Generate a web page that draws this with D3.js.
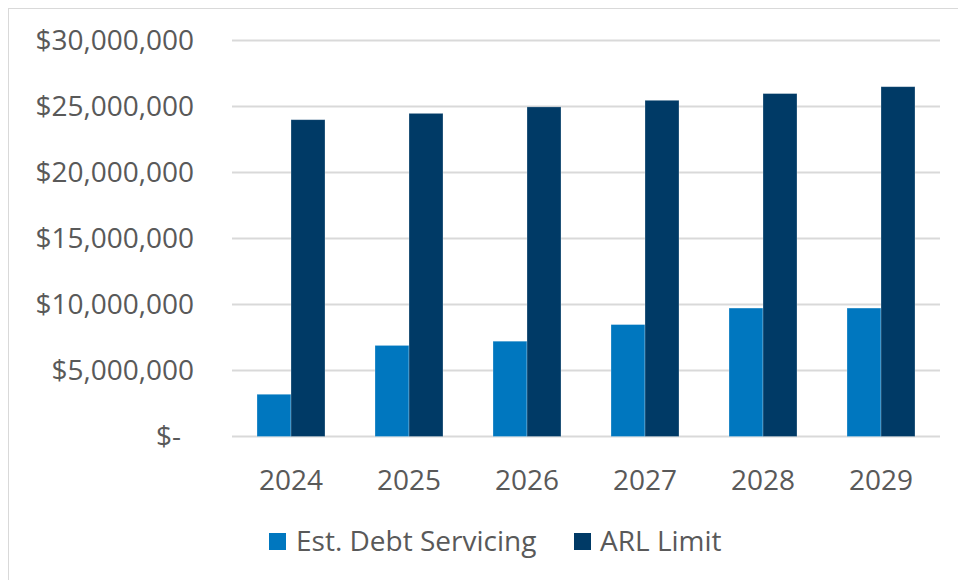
<!DOCTYPE html>
<html>
<head>
<meta charset="utf-8">
<script src="https://cdn.jsdelivr.net/npm/d3@7"></script>
<style>
  body { margin: 0; background: #fff; }
  svg text { font-family: "Open Sans", sans-serif; fill: #595959; }
</style>
</head>
<body>
<svg id="chart" width="958" height="580"></svg>
<script>
// ---- data ----
const years = ["2024", "2025", "2026", "2027", "2028", "2029"];
const debtServicing = [3200000, 6900000, 7220000, 8480000, 9730000, 9730000];
const arlLimit = [24000000, 24480000, 24970000, 25470000, 25980000, 26500000];
const seriesNames = ["Est. Debt Servicing", "ARL Limit"];
const seriesColors = ["#0077bf", "#003a66"];
const yTicks = [0, 5000000, 10000000, 15000000, 20000000, 25000000, 30000000];

// ---- layout ----
const svg = d3.select("#chart");
const plot = { left: 232, right: 940, top: 40.5, bottom: 436.5 };

// chart border
svg.append("rect")
  .attr("x", 8.5).attr("y", 8.5).attr("width", 1000).attr("height", 1000)
  .attr("fill", "none").attr("stroke", "#d9d9d9").attr("stroke-width", 1);

const x = d3.scaleBand().domain(years).range([plot.left, plot.right]).paddingInner(0).paddingOuter(0);
const inner = d3.scaleBand().domain(seriesNames).range([x.bandwidth() / 2 - 34, x.bandwidth() / 2 + 34]);
const y = d3.scaleLinear().domain([0, 30000000]).range([plot.bottom, plot.top]);

// gridlines
svg.append("g").selectAll("line").data(yTicks).join("line")
  .attr("x1", plot.left).attr("x2", plot.right)
  .attr("y1", d => y(d)).attr("y2", d => y(d))
  .attr("stroke", "#d9d9d9").attr("stroke-width", 2);

// y labels
const fmt = d3.format(",");
svg.append("g").selectAll("text").data(yTicks).join("text")
  .attr("x", d => d === 0 ? 181 : 194)
  .attr("y", d => y(d))
  .attr("dy", "0.35em")
  .attr("text-anchor", "end")
  .style("font-size", "28px")
  .text(d => d === 0 ? "$-" : "$" + fmt(d));

// bars
const rows = years.map((yr, i) => ({ year: yr, values: [debtServicing[i], arlLimit[i]] }));
const groups = svg.append("g").selectAll("g").data(rows).join("g")
  .attr("transform", d => `translate(${x(d.year)},0)`);
groups.selectAll("rect").data(d => d.values.map((v, j) => ({ name: seriesNames[j], value: v, j })))
  .join("rect")
  .attr("x", d => inner(d.name))
  .attr("width", inner.bandwidth())
  .attr("y", d => y(d.value))
  .attr("height", d => y(0) - y(d.value))
  .attr("fill", d => seriesColors[d.j])
  .attr("stroke", "#ffffff").attr("stroke-opacity", 0.35).attr("stroke-width", 0.75);

// x labels
svg.append("g").selectAll("text").data(years).join("text")
  .attr("x", d => x(d) + x.bandwidth() / 2)
  .attr("y", 480)
  .attr("dy", "0.35em")
  .attr("text-anchor", "middle")
  .style("font-size", "28px")
  .text(d => d);

// legend
const legendItems = [{ name: seriesNames[0], sx: 269, tx: 296 }, { name: seriesNames[1], sx: 574, tx: 600 }];
const lg = svg.append("g").selectAll("g").data(legendItems).join("g");
lg.append("rect")
  .attr("x", d => d.sx).attr("y", 533).attr("width", 17).attr("height", 17)
  .attr("fill", (d, i) => seriesColors[i]);
lg.append("text")
  .attr("x", d => d.tx).attr("y", 541.5).attr("dy", "0.35em")
  .style("font-size", "28px")
  .text(d => d.name);
</script>
</body>
</html>
